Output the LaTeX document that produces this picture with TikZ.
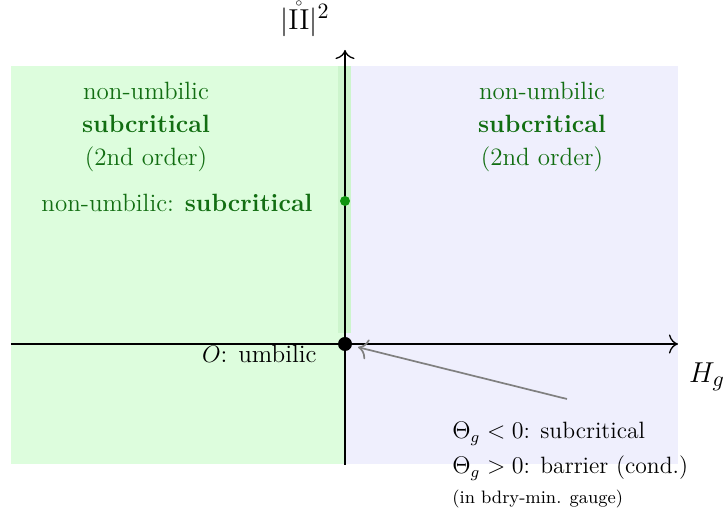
\documentclass[tikz,border=0pt]{standalone}
\usepackage{amsmath,amssymb}
\usepackage{xcolor}
\usetikzlibrary{arrows.meta,positioning}
\definecolor{regleft}{RGB}{221,253,221}
\definecolor{regright}{RGB}{239,239,253}
\definecolor{regaxis}{RGB}{205,245,205}
\definecolor{inkgreen}{RGB}{18,110,18}
\definecolor{dotgreen}{RGB}{16,150,16}
\definecolor{inkgray}{RGB}{128,128,128}

\begin{document}
\begin{tikzpicture}[x=0.5pt,y=0.5pt,
  lbl/.style={inner sep=0pt,font=\fontsize{12.5}{16.5}\selectfont},
  glbl/.style={lbl,text=inkgreen,align=center},
  note/.style={inner sep=0pt,align=left,font=\fontsize{11.8}{17.5}\selectfont},
  axl/.style={inner sep=0pt,font=\fontsize{15}{17}\selectfont},
  ax/.style={-{To[scale=1.5]},line width=0.65pt},
  ptr/.style={-{To[scale=1.4]},line width=0.85pt,inkgray,shorten >=3pt},
  dot/.style={circle,fill,inner sep=0pt}]
\useasboundingbox (-345,-173) rectangle (383,344);
% regions
\fill[regleft] (-334,-120) rectangle (0,278);
\fill[regright] (0,-120) rectangle (333,278);
\fill[regaxis] (-7,11) rectangle (6,278);
% axes
\coordinate (xl) at (-334,0);
\coordinate (xr) at (333,0);
\coordinate (yb) at (0,-121);
\coordinate (yt) at (0,294);
\draw[ax] (xl) -- (xr);
\draw[ax] (yb) -- (yt);
\node[axl] (hg) at (362,-33) {$H_g$};
\node[axl] (ii) at (-40,325) {$|\mathring{\mathrm{II}}|^2$};
% points
\node[dot,black,minimum size=7pt] (O) at (0,0) {};
\node[dot,dotgreen,minimum size=5pt] (gp) at (0,143) {};
\node[lbl,anchor=base east] (ol) at (-28,-19) {$O$: umbilic};
\node[lbl,text=inkgreen,anchor=base east] (gl) at (-32,132)
  {non-umbilic: \textbf{subcritical}};
% regions text
\node[glbl,anchor=north] (lq) at (-199,262)
  {non-umbilic\\\textbf{subcritical}\\(2nd order)};
\node[glbl,anchor=north] (rq) at (197,262)
  {non-umbilic\\\textbf{subcritical}\\(2nd order)};
\node[note,anchor=north west] (th) at (107,-78)
  {$\Theta_g<0$: subcritical\\
   $\Theta_g>0$: barrier (cond.)\\[-2.5pt]
   {\fontsize{9}{11}\selectfont (in bdry-min. gauge)}};
\coordinate (tail) at (222,-55);
\draw[ptr] (tail) -- (O);
\end{tikzpicture}
\end{document}
